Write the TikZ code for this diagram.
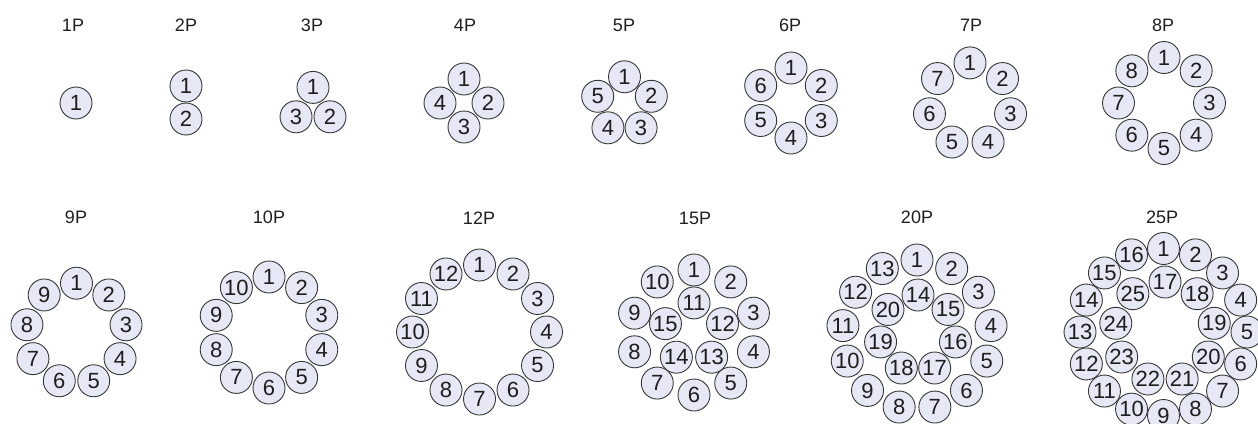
\documentclass[tikz,border=0pt]{standalone}
\usepackage{fontspec}
\setmainfont{Liberation Sans}
\definecolor{pinfill}{RGB}{230,233,245}
\definecolor{pinline}{RGB}{55,55,55}
\definecolor{txt}{RGB}{30,30,30}
\tikzset{
  pin/.style={circle, draw=pinline, fill=pinfill, line width=0.9pt,
    minimum size=32pt, inner sep=0pt, text=txt,
    font=\fontsize{22}{22}\selectfont},
  lab/.style={font=\fontsize{18}{18}\selectfont, text=txt, inner sep=0pt}
}
\newcommand{\pinring}[6]{%
  \foreach \k in {1,...,#5}{%
    \pgfmathsetmacro{\ang}{-90+360*(\k-1)/#5}%
    \pgfmathtruncatemacro{\num}{\k+#6}%
    \node[pin] (#1-\num) at ([shift={(#2,#3)}]\ang:#4) {\num};
  }}
\begin{document}
\begin{tikzpicture}[x=1pt,y=-1pt]
\useasboundingbox (0,0) rectangle (1258,423);
\clip (0,0) rectangle (1258,423);
% labels
\node[lab] (l1)  at (73,25)   {1P};
\node[lab] (l2)  at (186,25)  {2P};
\node[lab] (l3)  at (312,25)  {3P};
\node[lab] (l4)  at (465,25)  {4P};
\node[lab] (l5)  at (624,25)  {5P};
\node[lab] (l6)  at (790,25)  {6P};
\node[lab] (l7)  at (971,25)  {7P};
\node[lab] (l8)  at (1163,25) {8P};
\node[lab] (l9)  at (76,217)  {9P};
\node[lab] (l10) at (269,217) {10P};
\node[lab] (l12) at (479,218) {12P};
\node[lab] (l15) at (695,218) {15P};
\node[lab] (l20) at (917,217) {20P};
\node[lab] (l25) at (1162,217) {25P};
% row 1
\pinring{a}{76}{103}{0}{1}{0}
\pinring{b}{186}{102.5}{16.5}{2}{0}
\pinring{c}{313}{107}{19.6}{3}{0}
\pinring{d}{464}{103}{24}{4}{0}
\pinring{e}{624.5}{105}{28.2}{5}{0}
\pinring{f}{791}{103}{35}{6}{0}
\pinring{g}{970}{104.5}{41.6}{7}{0}
\pinring{h}{1164}{103}{45.5}{8}{0}
% row 2
\pinring{i}{76.5}{333.5}{50.3}{9}{0}
\pinring{j}{269}{332.5}{55.5}{10}{0}
\pinring{k}{479.5}{332}{67}{12}{0}
\pinring{m}{694}{332.5}{62.5}{10}{0}
\pinring{m}{694}{332.9}{30}{5}{10}
\pinring{n}{917}{334.6}{74.6}{13}{0}
\pinring{n}{918}{333.4}{38.4}{7}{13}
\pinring{o}{1163.5}{332}{83.5}{16}{0}
\pinring{o}{1165}{332}{50}{9}{16}
\end{tikzpicture}
\end{document}
